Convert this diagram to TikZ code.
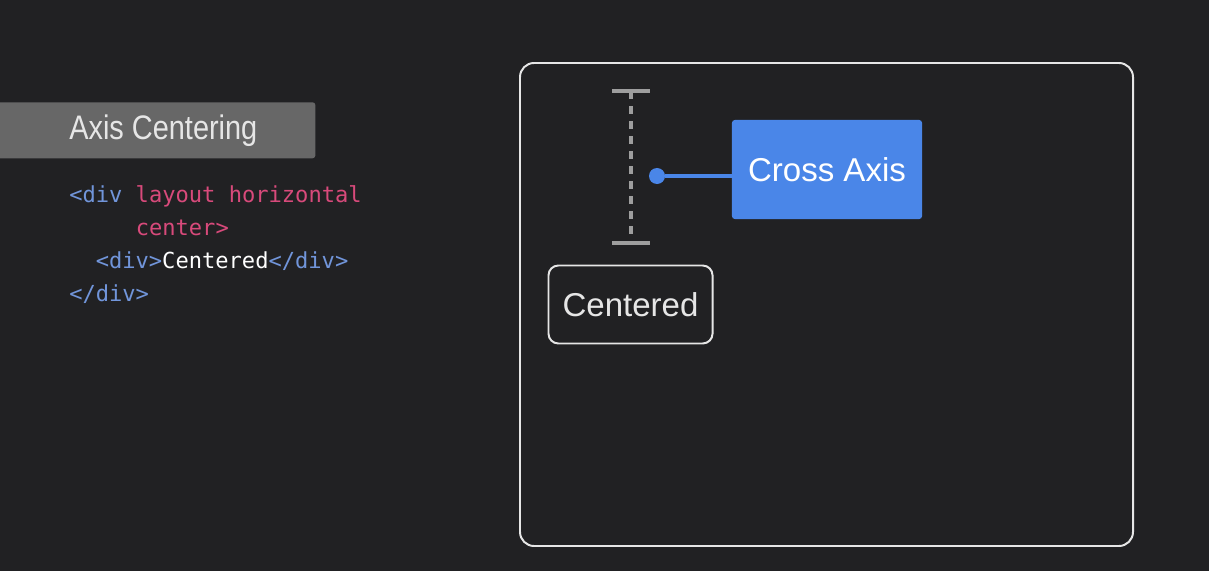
\documentclass[tikz,border=0pt]{standalone}
\usepackage{fontspec}
\setmainfont{Liberation Sans}
\newfontfamily\titlefont[FakeStretch=0.85]{Liberation Sans}
\newfontfamily\codefont{DejaVu Sans Mono}
\usepackage{xcolor}
\usetikzlibrary{positioning}
\definecolor{bgdark}{HTML}{212123}
\definecolor{hdrgray}{HTML}{676767}
\definecolor{tagblue}{HTML}{7195DA}
\definecolor{attrpink}{HTML}{D84A7B}
\definecolor{boxblue}{HTML}{4A86E8}
\definecolor{barGray}{HTML}{9E9E9E}
\definecolor{lineWhite}{HTML}{E6E6E6}

\begin{document}
\begin{tikzpicture}[x=0.025cm, y=-0.025cm,
  hdrbox/.style={fill=hdrgray, rounded corners=2pt, inner sep=0pt},
  title/.style={text=lineWhite, font=\titlefont\fontsize{24.2}{28}\selectfont, inner sep=0pt},
  code/.style={font=\codefont\fontsize{15.7}{19}\selectfont, inner sep=0pt, anchor=base west},
  panel/.style={draw=lineWhite, line width=1.4pt, rounded corners=10pt},
  capbar/.style={draw=barGray, line width=2.85pt},
  axisdash/.style={draw=barGray, line width=2.85pt, dash pattern=on 5.7pt off 5pt},
  dotnode/.style={circle, fill=boxblue, minimum size=0.4cm, inner sep=0pt},
  link/.style={draw=boxblue, line width=2.8pt},
  bluebox/.style={fill=boxblue, rounded corners=2pt, minimum width=4.75cm, minimum height=2.475cm,
    text=white, font=\fontsize{23.5}{28}\selectfont},
  itembox/.style={draw=lineWhite, line width=1.4pt, rounded corners=7pt, minimum width=4.1cm,
    minimum height=1.95cm, text=lineWhite, font=\fontsize{23.5}{28}\selectfont}
]
\fill[bgdark] (0,0) rectangle (1209,571);
\useasboundingbox (0,0) rectangle (1209,571);
% --- Left panel: header and code ---
\node[hdrbox, anchor=north west, minimum width=8.125cm, minimum height=1.4cm] (hdr) at (-10,102) {};
\node[title, anchor=base west] (ttl) at (69,140) {Axis Centering};
\node[code] (l1) at (69,202) {\color{tagblue}<div \color{attrpink}layout horizontal};
\node[code] (l2) at (135.5,235) {\color{attrpink}center>};
\node[code] (l3) at (95.5,268) {\color{tagblue}<div>\color{white}Centered\color{tagblue}</div>};
\node[code] (l4) at (69,301) {\color{tagblue}</div>};
% --- Right panel: container ---
\draw[panel] (520,63) rectangle (1133,546);
\coordinate (capT) at (631,91);
\coordinate (capB) at (631,243);
\draw[axisdash] (capT) -- (capB);
\draw[capbar] (capT) ++(-19,0) -- ++(38,0);
\draw[capbar] (capB) ++(-19,0) -- ++(38,0);
\node[dotnode] (dot) at (657,176) {};
\node[bluebox] (cross) at (827,169.5) {Cross Axis};
\draw[link] (dot) -- (dot -| cross.west);
\node[itembox] (ctr) at (630.5,304.5) {Centered};
\end{tikzpicture}
\end{document}
